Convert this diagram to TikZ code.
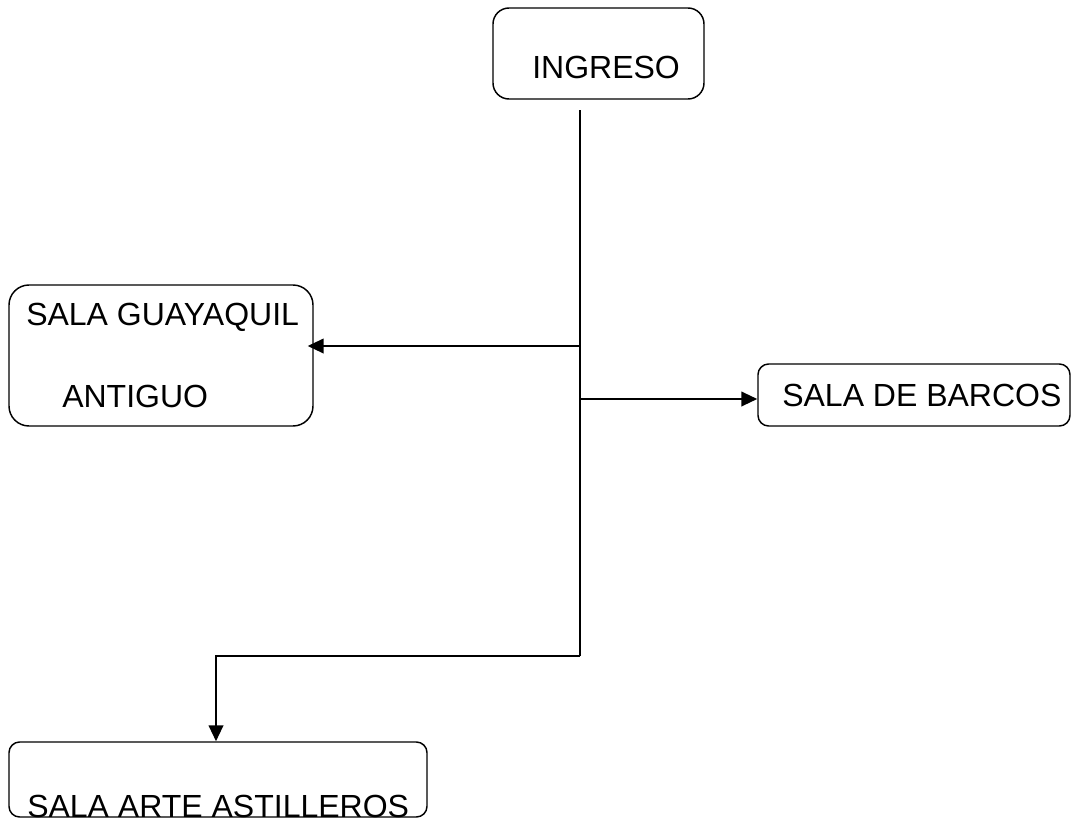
\documentclass[tikz,border=0pt]{standalone}
\usepackage{fontspec}
\setmainfont{Liberation Sans}
\usetikzlibrary{arrows.meta,fit}
\begin{document}
\begin{tikzpicture}[x=0.75pt,y=-0.75pt,
  box/.style={draw,rounded corners=10pt,line width=1.1pt,inner sep=0pt},
  lbl/.style={anchor=base west,inner sep=0pt,font=\fontsize{24}{28}\selectfont},
  conn/.style={line width=1.5pt},
  arr/.style={conn,-{Triangle[length=12pt,width=11pt]}}]
\useasboundingbox (0,0) rectangle (1072,822);
% boxes
\node[box,rounded corners=12pt,fit={(493,8) (704,99)}] (ingreso) {};
\node[box,rounded corners=15pt,fit={(9,285) (313,426)}] (guayaquil) {};
\node[box,rounded corners=8pt,fit={(758,364) (1070,426)}] (barcos) {};
\node[box,rounded corners=8pt,fit={(9,742) (427,817)}] (astilleros) {};
% texts
\node[lbl] (tingreso) at (532,78) {INGRESO};
\node[lbl] (tguay1) at (26,325) {SALA GUAYAQUIL};
\node[lbl] (tguay2) at (62,407) {ANTIGUO};
\node[lbl] (tbarcos) at (782,406) {SALA DE BARCOS};
\node[lbl] (tastill) at (27,817) {SALA ARTE ASTILLEROS};
% connectors
\coordinate (top) at (580,110);
\coordinate (j1) at (580,346);
\coordinate (j2) at (580,399);
\coordinate (bend) at (580,656);
\coordinate (corner) at (216,656);
\draw[conn] (top) -- (bend);
\draw[arr,line join=miter] (bend) -- (corner) -- (corner |- astilleros.north);
\draw[arr] (j1) -- ([xshift=-6*0.75pt]guayaquil.east |- j1);
\draw[arr] (j2) -- (barcos.west |- j2);
\end{tikzpicture}
\end{document}
